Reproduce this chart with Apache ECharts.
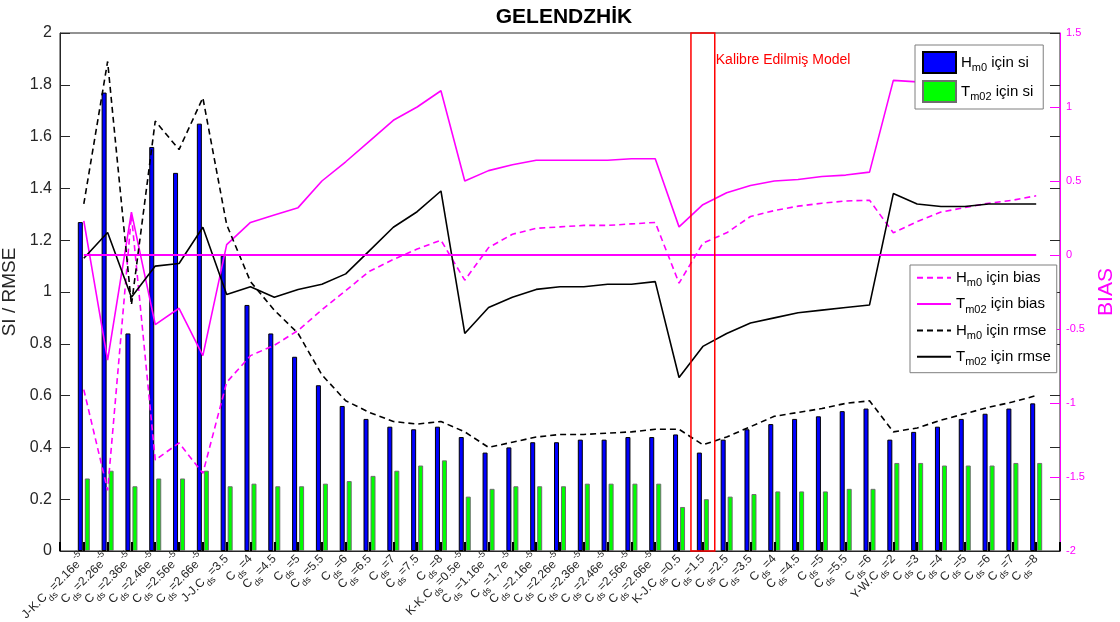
<!DOCTYPE html>
<html>
<head>
<meta charset="utf-8">
<title>GELENDZHİK</title>
<script src="https://cdn.jsdelivr.net/npm/echarts@6.0.0/dist/echarts.min.js"></script>
<style>
    html, body { margin: 0; padding: 0; background: #fff; }
    #chartBox { width: 1120px; height: 622px; }
</style>
</head>
<body>
<div id="chartBox"></div>
<script>
/**
 * GELENDZHİK - SI / RMSE / BIAS
 */
var categories = [
    'J-K.C_{ds}=2.16e^{-5}', 'C_{ds}=2.26e^{-5}', 'C_{ds}=2.36e^{-5}', 'C_{ds}=2.46e^{-5}', 'C_{ds}=2.56e^{-5}', 'C_{ds}=2.66e^{-5}',
    'J-J.C_{ds}=3.5', 'C_{ds}=4', 'C_{ds}=4.5', 'C_{ds}=5', 'C_{ds}=5.5', 'C_{ds}=6', 'C_{ds}=6.5', 'C_{ds}=7', 'C_{ds}=7.5', 'C_{ds}=8',
    'K-K.C_{ds}=0.5e^{-5}', 'C_{ds}=1.16e^{-5}', 'C_{ds}=1.7e^{-5}', 'C_{ds}=2.16e^{-5}', 'C_{ds}=2.26e^{-5}', 'C_{ds}=2.36e^{-5}', 'C_{ds}=2.46e^{-5}', 'C_{ds}=2.56e^{-5}', 'C_{ds}=2.66e^{-5}',
    'K-J.C_{ds}=0.5', 'C_{ds}=1.5', 'C_{ds}=2.5', 'C_{ds}=3.5', 'C_{ds}=4', 'C_{ds}=4.5', 'C_{ds}=5', 'C_{ds}=5.5', 'C_{ds}=6',
    'Y-W.C_{ds}=2', 'C_{ds}=3', 'C_{ds}=4', 'C_{ds}=5', 'C_{ds}=6', 'C_{ds}=7', 'C_{ds}=8'
];

// sol eksen (SI / RMSE)
var hm0Si = [1.27, 1.77, 0.84, 1.56, 1.46, 1.65, 1.14, 0.95, 0.84, 0.75,
    0.64, 0.56, 0.51, 0.48, 0.47, 0.48, 0.44, 0.38, 0.40, 0.42,
    0.42, 0.43, 0.43, 0.44, 0.44, 0.45, 0.38, 0.43, 0.47, 0.49,
    0.51, 0.52, 0.54, 0.55, 0.43, 0.46, 0.48, 0.51, 0.53, 0.55, 0.57];
var tm02Si = [0.28, 0.31, 0.25, 0.28, 0.28, 0.31, 0.25, 0.26, 0.25, 0.25,
    0.26, 0.27, 0.29, 0.31, 0.33, 0.35, 0.21, 0.24, 0.25, 0.25,
    0.25, 0.26, 0.26, 0.26, 0.26, 0.17, 0.20, 0.21, 0.22, 0.23,
    0.23, 0.23, 0.24, 0.24, 0.34, 0.34, 0.33, 0.33, 0.33, 0.34, 0.34];
var hm0Rmse = [1.34, 1.89, 0.95, 1.66, 1.55, 1.75, 1.26, 1.04, 0.93, 0.84,
    0.68, 0.58, 0.535, 0.50, 0.49, 0.50, 0.46, 0.40, 0.42, 0.44,
    0.45, 0.45, 0.455, 0.46, 0.47, 0.47, 0.41, 0.44, 0.48, 0.52,
    0.535, 0.55, 0.57, 0.58, 0.46, 0.475, 0.505, 0.53, 0.555, 0.575, 0.60];
var tm02Rmse = [1.13, 1.23, 0.98, 1.10, 1.11, 1.25, 0.99, 1.02, 0.98, 1.01,
    1.03, 1.07, 1.16, 1.25, 1.31, 1.39, 0.84, 0.94, 0.98, 1.01,
    1.02, 1.02, 1.03, 1.03, 1.04, 0.67, 0.79, 0.84, 0.88, 0.90,
    0.92, 0.93, 0.94, 0.95, 1.38, 1.34, 1.33, 1.33, 1.34, 1.34, 1.34];

// sag eksen (BIAS)
var hm0Bias = [-0.91, -1.59, 0.27, -1.385, -1.27, -1.475, -0.86, -0.68, -0.61, -0.51,
    -0.37, -0.24, -0.11, -0.03, 0.04, 0.10, -0.17, 0.05, 0.14, 0.18,
    0.19, 0.20, 0.20, 0.21, 0.22, -0.19, 0.08, 0.15, 0.26, 0.30,
    0.33, 0.35, 0.365, 0.37, 0.15, 0.225, 0.29, 0.32, 0.35, 0.37, 0.40];
var tm02Bias = [0.23, -0.71, 0.29, -0.47, -0.36, -0.68, 0.07, 0.22, 0.27, 0.32,
    0.50, 0.63, 0.77, 0.91, 1.00, 1.11, 0.50, 0.57, 0.61, 0.64,
    0.64, 0.64, 0.64, 0.65, 0.65, 0.19, 0.34, 0.42, 0.47, 0.50,
    0.51, 0.53, 0.54, 0.56, 1.18, 1.17, 1.16, 1.16, 1.16, 1.17, 1.17];

var leftTicks = {min: 0, max: 2, interval: 0.2};
var rightTicks = {min: -2, max: 1.5, interval: 0.5};
var calibrated = 'C_{ds}=1.5';

(function(){
    var _font = '"Liberation Sans", Arial, Helvetica, sans-serif',
        _magenta = '#ff00ff',
        _dark = '#262626',
        _chart;

    // eksenin iki ucunda bos yer (xlim [0, n+1])
    function pad(_list){
        return [null].concat(_list, [null]);
    }

    // "_{..}" alt simge, "^{..}" ust simge
    function toRich(_str, _base){
        var _out = '', _re = /([_^])\{([^}]*)\}/g, _last = 0, _m;
        while((_m = _re.exec(_str))){
            if(_m.index > _last){
                _out += '{' + _base + '|' + _str.slice(_last, _m.index) + '}';
            }
            _out += '{' + (_m[1] === '_' ? 'sub' : 'sup') + '|' + _m[2] + '}';
            _last = _re.lastIndex;
        }
        if(_last < _str.length){
            _out += '{' + _base + '|' + _str.slice(_last) + '}';
        }
        return _out;
    }

    var _legendRich = {
        t: {fontSize: 15, lineHeight: 22, color: '#000', fontFamily: _font},
        sub: {fontSize: 11, lineHeight: 11, verticalAlign: 'bottom', color: '#000', fontFamily: _font},
        sup: {fontSize: 11, lineHeight: 11, verticalAlign: 'top', color: '#000', fontFamily: _font}
    };

    function getParams(){
        return {
            animation: false,
            backgroundColor: '#fff',
            textStyle: {fontFamily: _font},
            title: {
                text: 'GELENDZHİK',
                left: 559,
                top: 2,
                textAlign: 'center',
                textStyle: {fontSize: 21, fontWeight: 'bold', color: '#000', fontFamily: _font}
            },
            grid: {
                left: 60, right: 60, top: 33, bottom: 71,
                outerBoundsMode: 'none',
                containLabel: false,
                show: true,
                borderColor: _dark,
                borderWidth: 1
            },
            legend: [
                {
                    data: ['H_{m0} için si', 'T_{m02} için si'],
                    orient: 'vertical',
                    left: 915, top: 45,
                    padding: [6, 10, 6, 7],
                    icon: 'rect',
                    itemWidth: 33, itemHeight: 21, itemGap: 6,
                    borderColor: '#7f7f7f', borderWidth: 1,
                    backgroundColor: '#fff',
                    selectedMode: false,
                    formatter: function(_name){ return toRich(_name, 't'); },
                    textStyle: {rich: _legendRich}
                },
                {
                    data: ['H_{m0} için bias', 'T_{m02} için bias', 'H_{m0} için rmse', 'T_{m02} için rmse'],
                    orient: 'vertical',
                    left: 910, top: 265,
                    padding: [4, 6, 5, 6],
                    itemWidth: 34, itemHeight: 22, itemGap: 6.5,
                    itemStyle: {opacity: 0},
                    borderColor: '#7f7f7f', borderWidth: 1,
                    backgroundColor: '#fff',
                    selectedMode: false,
                    formatter: function(_name){ return toRich(_name, 't'); },
                    textStyle: {rich: _legendRich}
                }
            ],
            xAxis: {
                type: 'category',
                data: [''].concat(categories, ['']),
                boundaryGap: false,
                z: 5,
                axisLine: {lineStyle: {color: _dark, width: 1}},
                axisTick: {inside: true, length: 9, interval: 0, lineStyle: {color: '#000', width: 2}},
                splitLine: {show: false},
                axisLabel: {
                    interval: 0,
                    rotate: 45,
                    margin: 6,
                    formatter: function(_value){ return _value ? toRich(_value, 'n') : ''; },
                    rich: {
                        n: {fontSize: 12, lineHeight: 22, color: _dark, fontFamily: _font},
                        sub: {fontSize: 9, lineHeight: 9, verticalAlign: 'bottom', color: _dark, fontFamily: _font},
                        sup: {fontSize: 9, lineHeight: 9, verticalAlign: 'top', color: _dark, fontFamily: _font}
                    }
                }
            },
            yAxis: [
                {
                    type: 'value',
                    position: 'left',
                    min: leftTicks.min, max: leftTicks.max, interval: leftTicks.interval,
                    name: 'SI / RMSE',
                    nameLocation: 'middle',
                    nameGap: 36,
                    nameTextStyle: {fontSize: 19, color: _dark, fontFamily: _font},
                    axisLine: {show: true, lineStyle: {color: _dark}},
                    axisTick: {show: true, inside: true, length: 10, lineStyle: {color: _dark}},
                    axisLabel: {fontSize: 16, color: _dark, margin: 8},
                    splitLine: {show: false}
                },
                {
                    type: 'value',
                    position: 'right',
                    min: rightTicks.min, max: rightTicks.max, interval: rightTicks.interval,
                    name: 'BIAS',
                    nameLocation: 'middle',
                    nameGap: 30,
                    nameRotate: 90,
                    nameTextStyle: {fontSize: 21, color: _magenta, fontFamily: _font},
                    axisLine: {show: true, lineStyle: {color: _magenta}},
                    axisTick: {show: true, inside: true, length: 10, lineStyle: {color: _magenta}},
                    axisLabel: {fontSize: 11, color: _magenta, margin: 6},
                    splitLine: {show: false}
                },
                {
                    // sol eksenin sagdaki tik izleri
                    type: 'value',
                    position: 'right',
                    min: leftTicks.min, max: leftTicks.max, interval: leftTicks.interval,
                    axisLine: {show: false},
                    axisTick: {show: true, inside: true, length: 10, lineStyle: {color: _dark}},
                    axisLabel: {show: false},
                    splitLine: {show: false}
                }
            ],
            series: [
                {
                    name: 'H_{m0} için si',
                    type: 'bar',
                    yAxisIndex: 0,
                    data: pad(hm0Si),
                    barWidth: 5,
                    barGap: '40%',
                    itemStyle: {color: '#0000ff', borderColor: '#000', borderWidth: 1}
                },
                {
                    name: 'T_{m02} için si',
                    type: 'bar',
                    yAxisIndex: 0,
                    data: pad(tm02Si),
                    barWidth: 5,
                    barGap: '40%',
                    itemStyle: {color: '#00ff00', borderColor: '#6e6e6e', borderWidth: 1}
                },
                {
                    name: 'H_{m0} için bias',
                    type: 'line',
                    yAxisIndex: 1,
                    data: pad(hm0Bias),
                    symbol: 'none',
                    lineStyle: {color: _magenta, width: 1.6, type: [6, 4]},
                    itemStyle: {color: _magenta}
                },
                {
                    name: 'T_{m02} için bias',
                    type: 'line',
                    yAxisIndex: 1,
                    data: pad(tm02Bias),
                    symbol: 'none',
                    lineStyle: {color: _magenta, width: 1.6},
                    itemStyle: {color: _magenta},
                    markLine: {
                        silent: true,
                        symbol: 'none',
                        label: {show: false},
                        lineStyle: {color: _magenta, width: 2, type: 'solid'},
                        data: [[{coord: [1, 0]}, {coord: [categories.length, 0]}]]
                    }
                },
                {
                    name: 'H_{m0} için rmse',
                    type: 'line',
                    yAxisIndex: 0,
                    data: pad(hm0Rmse),
                    symbol: 'none',
                    lineStyle: {color: '#000', width: 1.6, type: [6, 4]},
                    itemStyle: {color: '#000'}
                },
                {
                    name: 'T_{m02} için rmse',
                    type: 'line',
                    yAxisIndex: 0,
                    data: pad(tm02Rmse),
                    symbol: 'none',
                    lineStyle: {color: '#000', width: 1.6},
                    itemStyle: {color: '#000'}
                }
            ]
        };
    }

    // kalibre edilmis model kutusu
    function renderMarkBox(){
        var _index = categories.indexOf(calibrated) + 1,
            _x = _chart.convertToPixel({xAxisIndex: 0}, _index),
            _band = _chart.convertToPixel({xAxisIndex: 0}, _index + 1) - _x,
            _top = _chart.convertToPixel({yAxisIndex: 0}, leftTicks.max),
            _bottom = _chart.convertToPixel({yAxisIndex: 0}, leftTicks.min);

        _chart.setOption({
            graphic: [
                {
                    type: 'rect',
                    z: 10,
                    silent: true,
                    shape: {x: _x - _band / 2, y: _top, width: _band, height: _bottom - _top},
                    style: {fill: 'none', stroke: '#ff0000', lineWidth: 1.5}
                },
                {
                    type: 'text',
                    z: 10,
                    silent: true,
                    x: _x + _band / 2 + 1,
                    y: _top + 27,
                    style: {
                        text: 'Kalibre Edilmiş Model',
                        fill: '#ff0000',
                        font: '14px ' + _font,
                        verticalAlign: 'middle'
                    }
                }
            ]
        });
    }

    function renderChartBox(){
        _chart = echarts.init(document.getElementById('chartBox'));
        _chart.setOption(getParams());
        renderMarkBox();
    }

    renderChartBox();
})();
</script>
</body>
</html>
